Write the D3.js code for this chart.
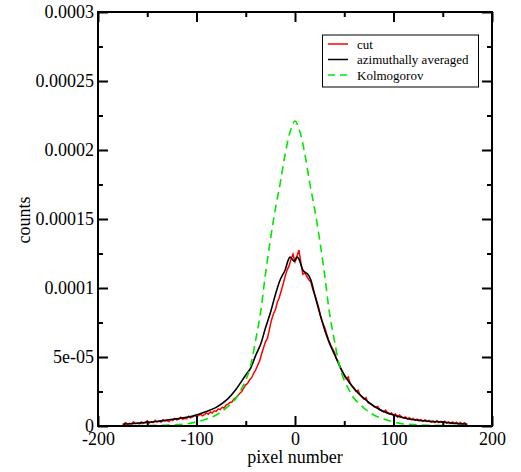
<!DOCTYPE html>
<html>
<head>
<meta charset="utf-8">
<script src="https://cdn.jsdelivr.net/npm/d3@7"></script>
<style>
  body { margin: 0; background: #fff; }
  svg text { font-family: "Liberation Serif", "Times New Roman", Times, "DejaVu Serif", serif !important; }
</style>
</head>
<body>
<svg width="521" height="472"></svg>
<script>
// tick labels
var xTicks = [-200, -100, 0, 100, 200];
var xTickLabels = ["-200", "-100", "0", "100", "200"];
var yTicks = [0, 0.00005, 0.0001, 0.00015, 0.0002, 0.00025, 0.0003];
var yTickLabels = ["0", "5e-05", "0.0001", "0.00015", "0.0002", "0.00025", "0.0003"];

// "cut" (red), counts in units of 1e-6, one value every 2 pixels from -174 to 174
var cutStart = -174, cutStep = 2;
var cutVals = [
  1.0, 2.5, 1.2, 2.0, 1.4, 3.0, 1.8, 2.2, 1.6, 2.9, 2.0, 2.6, 3.8, 2.1, 3.0, 2.4, 4.1, 3.0, 3.6, 2.8,
  4.5, 3.5, 4.0, 3.2, 4.8, 4.0, 5.5, 4.4, 5.0, 6.3, 4.9, 5.6, 5.3, 7.0, 5.9, 6.6, 7.8, 6.8,
  7.5, 8.6, 7.4, 8.2, 9.5, 8.5, 10.2, 9.4, 11.0, 10.6, 12.4, 11.8, 13.5, 13.0, 15.2, 15.8, 17.0, 17.4,
  19.6, 20.5, 22.0, 23.8, 25.0, 27.6, 29.8, 31.0, 33.5, 35.0, 38.2, 40.5, 43.8, 47.0, 52.0, 56.5,
  61.0, 63.5, 70.0, 76.5, 81.0, 84.0, 89.5, 93.0, 98.0, 103.0, 108.5, 113.0, 116.0, 121.0, 124.5,
  119.0, 123.0, 127.5, 118.0, 110.0, 111.0, 108.5, 106.0, 104.5, 99.0, 95.5, 91.0, 86.0, 79.5, 75.0,
  71.5, 67.0, 62.5, 59.0, 56.0, 53.5, 49.0, 46.5, 42.0, 39.5, 36.5, 34.0, 35.5, 31.0, 29.0, 27.5,
  25.0, 26.0, 22.5, 21.0, 19.5, 20.5, 17.0, 16.2, 15.5, 14.0, 13.5, 14.2, 11.8, 11.0, 10.2, 11.5,
  9.4, 8.8, 9.5, 7.6, 8.8, 6.5, 8.0, 6.8, 5.9, 6.6, 5.2, 6.0, 4.6, 5.5, 4.2, 5.0, 3.8, 4.6, 3.4,
  4.5, 3.2, 4.0, 2.8, 3.6, 2.6, 4.0, 2.5, 3.3, 2.4, 3.5, 2.2, 3.0, 1.9, 2.9, 1.7, 2.8, 1.5, 2.5,
  1.3, 2.4, 1.2
];

// "azimuthally averaged" (black), units of 1e-6
var avgX = [-175, -170, -160, -150, -140, -130, -120, -110, -100, -90, -80, -70, -60, -50, -45, -40,
  -35, -30, -25, -20, -15, -10, -7, -5, -3, -1, 0, 2, 4, 6, 8, 10, 13, 16, 20, 25, 30, 35, 40, 45,
  50, 60, 70, 80, 90, 100, 110, 120, 130, 140, 150, 160, 170, 175];
var avgVals = [1.3, 1.5, 2.0, 2.6, 3.3, 4.3, 5.2, 6.3, 8.0, 10.5, 13.5, 18.5, 26.5, 37, 42, 51,
  59, 71, 82, 95, 106, 113, 120, 122.5, 121, 119.5, 120, 122.5, 121, 117, 113, 111.5, 110, 106, 95,
  82, 70, 60, 52, 44, 37, 27, 20, 14.5, 10.5, 8, 6, 4.5, 3.8, 3.2, 2.8, 2.0, 1.5, 1.3];

// "Kolmogorov" (green dashed), units of 1e-6
var kolX = [-175, -140, -120, -110, -100, -90, -80, -70, -60, -55, -50, -45, -40, -35, -30, -25, -20,
  -15, -10, -5, 0, 5, 10, 15, 20, 25, 30, 35, 40, 45, 50, 55, 60, 70, 80, 90, 100, 110, 120, 140, 175];
var kolVals = [0.2, 0.5, 1.0, 1.5, 3, 5, 8, 13, 20, 26, 33, 44, 62, 82, 110, 135, 157,
  176, 197, 213, 221, 213, 197, 176, 157, 135, 110, 82, 62, 44, 33, 26, 20, 13, 8, 5, 3, 1.5, 1.0, 0.5, 0.2];

var svg = d3.select("svg");
var x = d3.scaleLinear().domain([-200, 200]).range([98, 492]);
var y = d3.scaleLinear().domain([0, 0.0003]).range([426, 12]);

function pts(xs, vs) {
  return xs.map(function(d, i) { return [d, vs[i] * 1e-6]; });
}
var cutData = cutVals.map(function(v, i) { return [cutStart + i * cutStep, v * 1e-6]; });
var avgData = pts(avgX, avgVals);
var kolData = pts(kolX, kolVals);

var line = d3.line().x(function(d) { return x(d[0]); }).y(function(d) { return y(d[1]); });
var smooth = d3.line().curve(d3.curveCatmullRom.alpha(0.5))
  .x(function(d) { return x(d[0]); }).y(function(d) { return y(d[1]); });

svg.append("path").datum(cutData).attr("d", line)
  .style("fill", "none").style("stroke", "#ff0000").style("stroke-width", 1.5);
svg.append("path").datum(avgData).attr("d", smooth)
  .style("fill", "none").style("stroke", "#000").style("stroke-width", 1.6);
svg.append("path").datum(kolData).attr("d", smooth)
  .style("fill", "none").style("stroke", "#00e600").style("stroke-width", 1.6)
  .style("stroke-dasharray", "8,5");

// axes, ticks pointing in on all four sides
var xMinor = [-150, -50, 50, 150];
var yMinor = [0.000025, 0.000075, 0.000125, 0.000175, 0.000225, 0.000275];
var fmtX = function(d) { return xTickLabels[xTicks.indexOf(d)]; };
var fmtY = function(d) { return yTickLabels[yTicks.indexOf(d)]; };

function styleAxis(g) {
  g.attr("font-family", null).attr("font-size", null);
  g.select(".domain").remove();
  g.selectAll("line").style("stroke", "#000").style("stroke-width", 2);
  g.selectAll("text").style("font-size", "18px").style("fill", "#000");
}

svg.append("g").attr("transform", "translate(0,426)")
  .call(d3.axisBottom(x).tickValues(xTicks).tickSize(-10).tickPadding(6).tickFormat(fmtX))
  .call(styleAxis);
svg.append("g").attr("transform", "translate(0,426)")
  .call(d3.axisBottom(x).tickValues(xMinor).tickSize(-5).tickFormat(""))
  .call(styleAxis);
svg.append("g").attr("transform", "translate(0,12)")
  .call(d3.axisTop(x).tickValues(xTicks).tickSize(-10).tickFormat(""))
  .call(styleAxis);
svg.append("g").attr("transform", "translate(0,12)")
  .call(d3.axisTop(x).tickValues(xMinor).tickSize(-5).tickFormat(""))
  .call(styleAxis);
svg.append("g").attr("transform", "translate(98,0)")
  .call(d3.axisLeft(y).tickValues(yTicks).tickSize(-10).tickPadding(4).tickFormat(fmtY))
  .call(styleAxis);
svg.append("g").attr("transform", "translate(98,0)")
  .call(d3.axisLeft(y).tickValues(yMinor).tickSize(-5).tickFormat(""))
  .call(styleAxis);
svg.append("g").attr("transform", "translate(492,0)")
  .call(d3.axisRight(y).tickValues(yTicks).tickSize(-10).tickFormat(""))
  .call(styleAxis);
svg.append("g").attr("transform", "translate(492,0)")
  .call(d3.axisRight(y).tickValues(yMinor).tickSize(-5).tickFormat(""))
  .call(styleAxis);

svg.append("rect").attr("x", 98).attr("y", 12).attr("width", 394).attr("height", 414)
  .style("fill", "none").style("stroke", "#000").style("stroke-width", 2);

// axis titles
svg.append("text").attr("x", 295).attr("y", 463).attr("text-anchor", "middle")
  .style("font-size", "18px").text("pixel number");
svg.append("text").attr("transform", "translate(30,220) rotate(-90)").attr("text-anchor", "middle")
  .style("font-size", "18px").text("counts");

// legend
var legNames = ["cut", "azimuthally averaged", "Kolmogorov"];
var legColors = ["#ff0000", "#000", "#00e600"];
var legDash = ["none", "none", "7,5"];
var leg = svg.append("g");
leg.append("rect").attr("x", 322.5).attr("y", 35).attr("width", 156).attr("height", 52)
  .style("fill", "#fff").style("stroke", "#000").style("stroke-width", 1);
legNames.forEach(function(n, i) {
  var ly = 44 + i * 15.5;
  leg.append("line").attr("x1", 328).attr("x2", 348).attr("y1", ly).attr("y2", ly)
    .style("stroke", legColors[i]).style("stroke-width", 1.5).style("stroke-dasharray", legDash[i]);
  leg.append("text").attr("x", 357).attr("y", ly + 4.5).style("font-size", "13px").text(n);
});
</script>
</body>
</html>
